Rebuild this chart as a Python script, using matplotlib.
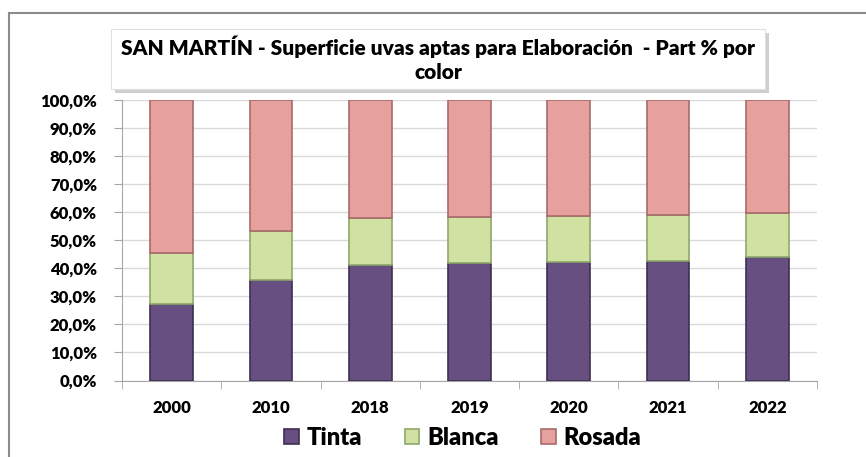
import matplotlib
matplotlib.use("Agg")
import matplotlib.pyplot as plt
import numpy as np
from matplotlib.patches import Rectangle
from matplotlib.lines import Line2D
from matplotlib.ticker import FuncFormatter, FixedLocator

years = ["2000", "2010", "2018", "2019", "2020", "2021", "2022"]
tinta = [27.4, 35.7, 41.1, 41.8, 42.3, 42.5, 44.0]
blanca = [18.2, 17.6, 17.0, 16.5, 16.3, 16.4, 15.8]
rosada = [100 - t - b for t, b in zip(tinta, blanca)]
series_names = ["Tinta", "Blanca", "Rosada"]
title = "SAN MARTÍN - Superficie uvas aptas para Elaboración  - Part % por\ncolor"

plt.rcParams['font.family'] = ['Lato', 'DejaVu Sans']

W, H = 866, 457
fig = plt.figure(figsize=(W / 100, H / 100), dpi=100)
fig.patch.set_facecolor("white")

# outer frame (left and top)
fig.add_artist(Line2D([9 / W, 9 / W], [0, 1 - 13 / H], transform=fig.transFigure,
                      color="#8c8c8c", lw=1.5))
fig.add_artist(Line2D([9 / W, 1], [1 - 13 / H, 1 - 13 / H], transform=fig.transFigure,
                      color="#8c8c8c", lw=1.5))

ax = fig.add_axes([122 / W, 1 - 380.5 / H, (817 - 122) / W, 280.5 / H])
x = np.arange(len(years))
width = 0.43
fills = ["#674f82", "#d0e1a1", "#e6a09e"]
edges = ["#3e2f52", "#8fa86a", "#a86b6a"]
bottom = np.zeros(len(years))
for vals, fc, ec, name in zip([tinta, blanca, rosada], fills, edges, series_names):
    ax.bar(x, vals, width, bottom=bottom, color=fc, edgecolor=ec, linewidth=1.2,
           label=name, zorder=3)
    bottom += np.array(vals)

ax.set_xlim(-0.5, len(years) - 0.5)
ax.set_ylim(0, 100)
ax.set_yticks(np.arange(0, 101, 10))
ax.yaxis.set_major_formatter(FuncFormatter(lambda v, p: f"{v:.1f}%".replace(".", ",")))
ax.grid(axis="y", color="#d9d9d9", lw=1, zorder=0)
ax.set_xticks(x)
ax.set_xticklabels(years)
ax.xaxis.set_minor_locator(FixedLocator(np.arange(-0.5, len(years), 1)))
ax.tick_params(axis="x", which="major", length=0, pad=14)
ax.tick_params(axis="x", which="minor", length=6, color="#a6a6a6")
ax.tick_params(axis="y", length=6, color="#a6a6a6", pad=12)
for lab in ax.get_xticklabels() + ax.get_yticklabels():
    lab.set_fontweight("heavy")
    lab.set_fontsize(12)
for s in ["top", "right"]:
    ax.spines[s].set_visible(False)
ax.spines["left"].set_color("#a6a6a6")
ax.spines["bottom"].set_color("#a6a6a6")

# title box with shadow
bx0, by0, bx1, by1 = 111, 29, 765, 89
fig.add_artist(Rectangle((bx0 + 4, H - by1 - 4), bx1 - bx0, by1 - by0,
                         transform=None, facecolor="#b0b0b0", edgecolor="none",
                         alpha=0.6, zorder=5))
fig.add_artist(Rectangle((bx0 / W, 1 - by1 / H), (bx1 - bx0) / W, (by1 - by0) / H,
                         transform=fig.transFigure, facecolor="white",
                         edgecolor="#e0e0e0", lw=0.8, zorder=6))
fig.text((bx0 + bx1) / 2 / W, 1 - (by0 + by1) / 2 / H, title, ha="center", va="center",
         fontsize=15, fontweight="heavy", linespacing=1.3, zorder=7)

leg = fig.legend(loc="center", bbox_to_anchor=(463 / W, 1 - 438 / H), ncol=3,
                 frameon=False, handlelength=0.6, handleheight=0.6,
                 columnspacing=1.8, handletextpad=0.35,
                 prop={"weight": "heavy", "size": 17})

fig.savefig("out.png", dpi=100)
